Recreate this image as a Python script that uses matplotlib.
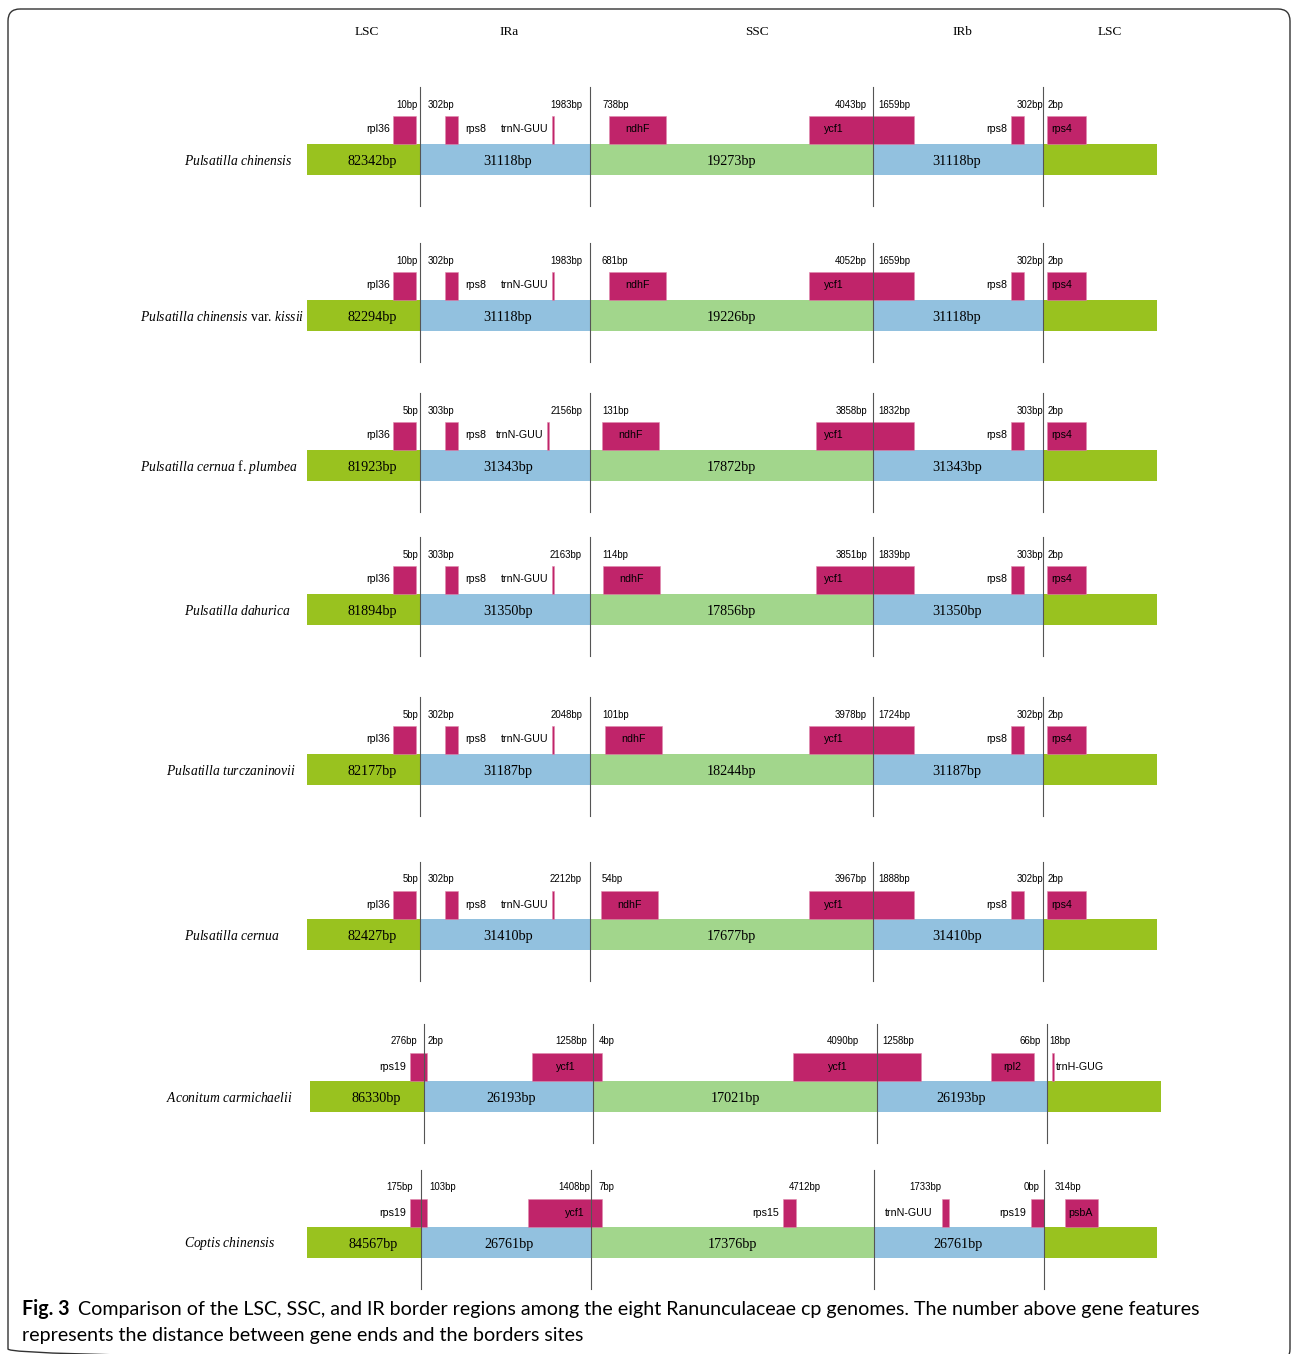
import matplotlib
matplotlib.use("Agg")
import matplotlib.pyplot as plt
from matplotlib.patches import Rectangle, FancyBboxPatch

plt.rcParams["mathtext.fontset"] = "custom"
plt.rcParams["mathtext.rm"] = "Liberation Serif"
plt.rcParams["mathtext.it"] = "Liberation Serif:italic"

# ---------------------------------------------------------------------------
# Genome data
# ---------------------------------------------------------------------------
SPECIES = [
    r"$\mathit{Pulsatilla\ chinensis}$",
    r"$\mathit{Pulsatilla\ chinensis}$ var. $\mathit{kissii}$",
    r"$\mathit{Pulsatilla\ cernua}$ f. $\mathit{plumbea}$",
    r"$\mathit{Pulsatilla\ dahurica}$",
    r"$\mathit{Pulsatilla\ turczaninovii}$",
    r"$\mathit{Pulsatilla\ cernua}$",
    r"$\mathit{Aconitum\ carmichaelii}$",
    r"$\mathit{Coptis\ chinensis}$",
]
LSC_LEN = [82342, 82294, 81923, 81894, 82177, 82427, 86330, 84567]
IR_LEN = [31118, 31118, 31343, 31350, 31187, 31410, 26193, 26761]
SSC_LEN = [19273, 19226, 17872, 17856, 18244, 17677, 17021, 17376]

REGIONS = ["LSC", "IRa", "SSC", "IRb", "LSC"]

PULS_GENES = ["rpl36", "rps8", "trnN-GUU", "ndhF", "ycf1", "rps8", "rps4"]
GENES = [PULS_GENES] * 6 + [
    ["rps19", "ycf1", "ycf1", "rpl2", "trnH-GUG"],
    ["rps19", "ycf1", "rps15", "trnN-GUU", "rps19", "psbA"],
]

# distance (bp) between gene ends and the junction sites
DIST = [
    [10, 302, 1983, 738, 4043, 1659, 302, 2],
    [10, 302, 1983, 681, 4052, 1659, 302, 2],
    [5, 303, 2156, 131, 3858, 1832, 303, 2],
    [5, 303, 2163, 114, 3851, 1839, 303, 2],
    [5, 302, 2048, 101, 3978, 1724, 302, 2],
    [5, 302, 2212, 54, 3967, 1888, 302, 2],
    [276, 2, 1258, 4, 4090, 1258, 66, 18],
    [175, 103, 1408, 7, 4712, 1733, 0, 314],
]

# ---------------------------------------------------------------------------
# Layout (drawing units = pixels of the output image)
# ---------------------------------------------------------------------------
TRACK_TOP = [144, 300, 450, 594, 754, 919, 1081, 1227]
TRACK_H = 31
GENE_H = 28
BOUNDS = [[307, 420, 590, 873, 1043, 1157]] * 6 + [
    [310, 424, 593, 877, 1047, 1161],
    [307, 421, 591, 874, 1044, 1157],
]
NAME_X = [184, 140, 140, 184, 166, 184, 166, 184]
HEADER_X = [367, 509, 757, 962, 1110]

# per-row positions for trnN-GUU, ndhF and ycf1 in the Pulsatilla rows
TRN_X = [552, 552, 547, 552, 552, 552]
NDHF_X = [(609, 666), (609, 666), (602, 659), (603, 660), (605, 662), (601, 658)]
YCF1_X0 = [809, 809, 816, 816, 809, 809]


def puls_layout(i):
    spans = [(393, 416), (445, 458), (TRN_X[i], TRN_X[i] + 2), NDHF_X[i],
             (YCF1_X0[i], 914), (1011, 1024), (1047, 1086)]
    names = [(390, "right"), (465, "left"), (TRN_X[i] - 3, "right"),
             (sum(NDHF_X[i]) / 2, "center"), (834, "center"),
             (1007, "right"), (1051, "left")]
    return spans, names


PULS_DIST_X = [(418, "right"), (428, "left"), (582, "right"), (602, "left"),
               (867, "right"), (878, "left"), (1043, "right"), (1048, "left")]

GENE_SPANS, GENE_NAME_POS = [], []
for i in range(6):
    s, n = puls_layout(i)
    GENE_SPANS.append(s)
    GENE_NAME_POS.append(n)
GENE_SPANS += [
    [(410, 427), (532, 602), (793, 921), (991, 1034), (1052, 1054)],
    [(410, 427), (528, 602), (783, 796), (942, 949), (1031, 1044), (1065, 1098)],
]
GENE_NAME_POS += [
    [(406, "right"), (566, "center"), (838, "center"), (1012, "center"), (1056, "left")],
    [(406, "right"), (575, "center"), (779, "right"), (933, "right"),
     (1026, "right"), (1081, "center")],
]
DIST_POS = [PULS_DIST_X] * 6 + [
    [(417, "right"), (428, "left"), (587, "right"), (599, "left"),
     (859, "right"), (882, "left"), (1041, "right"), (1049, "left")],
    [(413, "right"), (429, "left"), (590, "right"), (598, "left"),
     (789, "left"), (909, "left"), (1024, "left"), (1055, "left")],
]

LSC_COL = "#99C21F"
IR_COL = "#92C1DF"
SSC_COL = "#A2D68C"
GENE_COL = "#C0246A"
LINE_COL = "#555555"
SERIF = "Liberation Serif"
SANS = "Liberation Sans"

fig = plt.figure(figsize=(12.92, 13.54), dpi=100)
ax = fig.add_axes([0, 0, 1, 1])
ax.set_xlim(0, 1292)
ax.set_ylim(1354, 0)
ax.axis("off")

# frame around the figure
ax.add_patch(FancyBboxPatch((8, 9), 1282, 1352, boxstyle="round,pad=0,rounding_size=12",
                            fc="none", ec="#333333", lw=1.0))

for x, lab in zip(HEADER_X, REGIONS):
    ax.text(x, 32, lab, family=SERIF, fontsize=9.5, ha="center", va="center")

for i in range(len(SPECIES)):
    top = TRACK_TOP[i]
    b = BOUNDS[i]
    cy = top + TRACK_H / 2

    # genome segments: LSC | IRa | SSC | IRb | LSC
    seg_cols = [LSC_COL, IR_COL, SSC_COL, IR_COL, LSC_COL]
    for k in range(5):
        ax.add_patch(Rectangle((b[k], top), b[k + 1] - b[k], TRACK_H,
                               fc=seg_cols[k], ec="none", zorder=1))
    seg_len = [LSC_LEN[i], IR_LEN[i], SSC_LEN[i], IR_LEN[i]]
    offs = [9, 3, 0, -1]
    for k in range(4):
        xc = (b[k] + b[k + 1]) / 2 + offs[k]
        ax.text(xc, cy + 2, f"{seg_len[k]}bp", family=SERIF, fontsize=10.2,
                ha="center", va="center", zorder=5)

    # species name
    ax.text(NAME_X[i], cy + 1.5, SPECIES[i], family=SERIF, fontsize=9.8,
            ha="left", va="center")

    # genes near the junctions
    for name, (x0, x1), (nx, ha) in zip(GENES[i], GENE_SPANS[i], GENE_NAME_POS[i]):
        ax.add_patch(Rectangle((x0, top - GENE_H), x1 - x0, GENE_H,
                               fc=GENE_COL, ec="#E08AAE", lw=0.4, zorder=2))
        ax.text(nx, top - 14.5, name, family=SANS, fontsize=7.7, ha=ha,
                va="center", zorder=6)

    for d, (dx, ha) in zip(DIST[i], DIST_POS[i]):
        ax.text(dx, top - 39.5, f"{d}bp", family=SANS, fontsize=6.9, ha=ha,
                va="center", zorder=6)

    # junction lines
    for x in b[1:5]:
        ax.plot([x, x], [top - 57, top + 62], color=LINE_COL, lw=0.8, zorder=4)

# caption
cap_font = "Lato"
cap_size = 14.1
fig.canvas.draw()
r = fig.canvas.get_renderer()
t = ax.text(22, 1309, "Fig. 3", family=cap_font, fontsize=cap_size, weight="bold",
            ha="left", va="center")
bb = t.get_window_extent(renderer=r)
x_next = ax.transData.inverted().transform((bb.x1, 0))[0] + 9
ax.text(x_next, 1309,
        "Comparison of the LSC, SSC, and IR border regions among the eight "
        "Ranunculaceae cp genomes. The number above gene features",
        family=cap_font, fontsize=cap_size, ha="left", va="center")
ax.text(22, 1336, "represents the distance between gene ends and the borders sites",
        family=cap_font, fontsize=cap_size, ha="left", va="center")

fig.savefig("out.png", dpi=100)
